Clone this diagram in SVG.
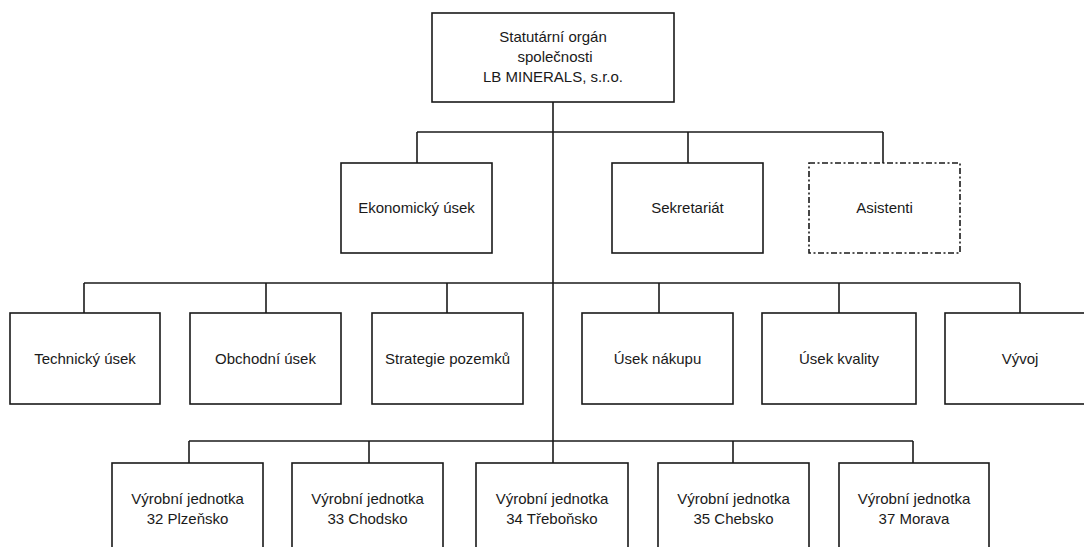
<svg xmlns="http://www.w3.org/2000/svg" width="1084" height="547" viewBox="0 0 1084 547">
<style>
.box{fill:#fff;stroke:#1a1a1a;stroke-width:1.6}
.dash{stroke-dasharray:6 2.5 2 2.5}
.lbl{font-family:"Liberation Sans",Arial,sans-serif;font-size:15px;fill:#1a1a1a;text-anchor:middle}
.ln{stroke:#1a1a1a;stroke-width:1.6;fill:none}
</style>
<rect width="1084" height="547" fill="#fff"/>
<g id="connectors">
<line class="ln" x1="553" y1="102" x2="553" y2="463"/>
<line class="ln" x1="417" y1="132" x2="883" y2="132"/>
<line class="ln" x1="417" y1="132" x2="417" y2="163"/>
<line class="ln" x1="688" y1="132" x2="688" y2="163"/>
<line class="ln" x1="883" y1="132" x2="883" y2="163"/>
<line class="ln" x1="84" y1="283" x2="1020" y2="283"/>
<line class="ln" x1="84" y1="283" x2="84" y2="313"/>
<line class="ln" x1="266" y1="283" x2="266" y2="313"/>
<line class="ln" x1="447" y1="283" x2="447" y2="313"/>
<line class="ln" x1="659" y1="283" x2="659" y2="313"/>
<line class="ln" x1="839" y1="283" x2="839" y2="313"/>
<line class="ln" x1="1020" y1="283" x2="1020" y2="313"/>
<line class="ln" x1="189" y1="441" x2="913" y2="441"/>
<line class="ln" x1="189" y1="441" x2="189" y2="463"/>
<line class="ln" x1="369" y1="441" x2="369" y2="463"/>
<line class="ln" x1="733" y1="441" x2="733" y2="463"/>
<line class="ln" x1="913" y1="441" x2="913" y2="463"/>
</g>
<g id="n-top">
<rect class="box" x="432" y="13" width="242" height="89"/>
<text class="lbl" x="553" y="42">Statutární orgán</text>
<text class="lbl" x="555" y="62">společnosti</text>
<text class="lbl" x="553" y="82">LB MINERALS, s.r.o.</text>
</g>
<g id="n-ekonomicky">
<rect class="box" x="341" y="163" width="151" height="90"/>
<text class="lbl" x="416.5" y="213">Ekonomický úsek</text>
</g>
<g id="n-sekretariat">
<rect class="box" x="612" y="163" width="151" height="90"/>
<text class="lbl" x="687.5" y="213">Sekretariát</text>
</g>
<g id="n-asistenti">
<rect class="box dash" x="809" y="163" width="151" height="90"/>
<text class="lbl" x="884.5" y="213">Asistenti</text>
</g>
<g id="n-technicky">
<rect class="box" x="10" y="313" width="150" height="91"/>
<text class="lbl" x="85" y="364">Technický úsek</text>
</g>
<g id="n-obchodni">
<rect class="box" x="190" y="313" width="151" height="91"/>
<text class="lbl" x="265.5" y="364">Obchodní úsek</text>
</g>
<g id="n-strategie">
<rect class="box" x="372" y="313" width="151" height="91"/>
<text class="lbl" x="447.5" y="364">Strategie pozemků</text>
</g>
<g id="n-nakup">
<rect class="box" x="582" y="313" width="151" height="91"/>
<text class="lbl" x="657.5" y="364">Úsek nákupu</text>
</g>
<g id="n-kvalita">
<rect class="box" x="762" y="313" width="154" height="91"/>
<text class="lbl" x="839" y="364">Úsek kvality</text>
</g>
<g id="n-vyvoj">
<rect class="box" x="945" y="313" width="151" height="91"/>
<text class="lbl" x="1020" y="364">Vývoj</text>
</g>
<g id="n-vj32">
<rect class="box" x="112" y="463" width="151" height="100"/>
<text class="lbl" x="187.5" y="504">Výrobní jednotka</text>
<text class="lbl" x="187.5" y="524">32 Plzeňsko</text>
</g>
<g id="n-vj33">
<rect class="box" x="292" y="463" width="151" height="100"/>
<text class="lbl" x="367.5" y="504">Výrobní jednotka</text>
<text class="lbl" x="367.5" y="524">33 Chodsko</text>
</g>
<g id="n-vj34">
<rect class="box" x="476" y="463" width="152" height="100"/>
<text class="lbl" x="552" y="504">Výrobní jednotka</text>
<text class="lbl" x="552" y="524">34 Třeboňsko</text>
</g>
<g id="n-vj35">
<rect class="box" x="658" y="463" width="151" height="100"/>
<text class="lbl" x="733.5" y="504">Výrobní jednotka</text>
<text class="lbl" x="733.5" y="524">35 Chebsko</text>
</g>
<g id="n-vj37">
<rect class="box" x="839" y="463" width="150" height="100"/>
<text class="lbl" x="914" y="504">Výrobní jednotka</text>
<text class="lbl" x="914" y="524">37 Morava</text>
</g>
</svg>
